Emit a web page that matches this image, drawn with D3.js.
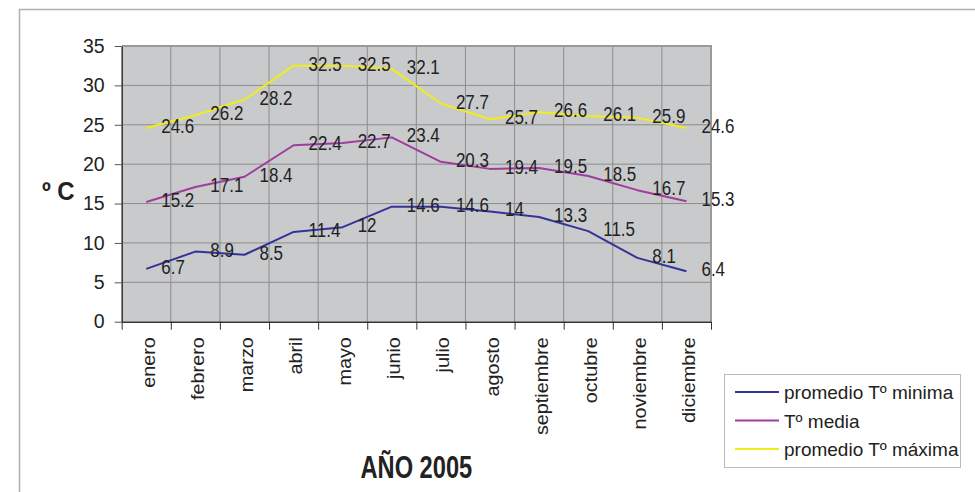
<!DOCTYPE html>
<html>
<head>
<meta charset="utf-8">
<script src="https://cdn.jsdelivr.net/npm/d3@7"></script>
<style>
  html, body { margin: 0; padding: 0; background: #ffffff; }
  svg { display: block; }
  text { font-family: "Liberation Sans", Arial, Helvetica, sans-serif; fill: #222; }
</style>
</head>
<body>
<svg id="chart" width="975" height="492"></svg>
<script>
// Monthly temperatures, 2005
const months = ["enero", "febrero", "marzo", "abril", "mayo", "junio",
                "julio", "agosto", "septiembre", "octubre", "noviembre", "diciembre"];
const tMin   = [6.7, 8.9, 8.5, 11.4, 12, 14.6, 14.6, 14, 13.3, 11.5, 8.1, 6.4];
const tMedia = [15.2, 17.1, 18.4, 22.4, 22.7, 23.4, 20.3, 19.4, 19.5, 18.5, 16.7, 15.3];
const tMax   = [24.6, 26.2, 28.2, 32.5, 32.5, 32.1, 27.7, 25.7, 26.6, 26.1, 25.9, 24.6];
const seriesNames = ["promedio Tº minima", "Tº media", "promedio Tº máxima"];
const yTicks = [0, 5, 10, 15, 20, 25, 30, 35];
const yLabel = "º C";
const xLabel = "AÑO 2005";

const series = [
  { name: seriesNames[0], values: tMin,   color: "#333399" },
  { name: seriesNames[1], values: tMedia, color: "#a03ca0" },
  { name: seriesNames[2], values: tMax,   color: "#f0ec1e" }
];

const svg = d3.select("#chart");
const plot = { left: 121.7, right: 711, top: 46, bottom: 321.7 };

const x = d3.scaleBand().domain(months).range([plot.left, plot.right]).padding(0);
const xIdx = d3.scaleLinear().domain([0, months.length]).range([plot.left, plot.right]);
const y = d3.scaleLinear().domain([0, 35]).range([plot.bottom, plot.top]);
const cx = m => x(m) + x.bandwidth() / 2;

// outer chart frame
svg.append("path")
  .attr("d", "M19.5,492 L19.5,9.5 L975,9.5")
  .attr("fill", "none").attr("stroke", "#b0b0b0").attr("stroke-width", 1.5);

// plot background
svg.append("rect")
  .attr("x", plot.left).attr("y", plot.top)
  .attr("width", plot.right - plot.left).attr("height", plot.bottom - plot.top)
  .attr("fill", "#c9cacc");

// gridlines
const grid = svg.append("g").attr("stroke", "#8c8c8c").attr("stroke-width", 1);
grid.selectAll(".h").data(yTicks.filter(v => v > 0 && v < 35)).join("line")
  .attr("x1", plot.left).attr("x2", plot.right)
  .attr("y1", d => y(d)).attr("y2", d => y(d));
grid.selectAll(".v").data(d3.range(1, months.length)).join("line")
  .attr("x1", d => xIdx(d)).attr("x2", d => xIdx(d))
  .attr("y1", plot.top).attr("y2", plot.bottom);

// top and right plot borders
svg.append("path")
  .attr("d", `M${plot.left},${plot.top} L${plot.right},${plot.top} L${plot.right},${plot.bottom}`)
  .attr("fill", "none").attr("stroke", "#9a9a9a").attr("stroke-width", 2);

// y axis
const yAxis = svg.append("g")
  .attr("transform", `translate(${plot.left},0)`)
  .call(d3.axisLeft(y).tickValues(yTicks).tickSize(7).tickPadding(10).tickSizeOuter(0));
yAxis.select(".domain").attr("stroke", "#333").attr("stroke-width", 1.5);
yAxis.selectAll(".tick line").attr("stroke", "#555");
yAxis.selectAll("text").style("font-size", "19.5px").attr("fill", "#222")
  .style("font-family", "'Liberation Sans', Arial, sans-serif");

// x axis: boundary ticks
const xTicks = svg.append("g")
  .attr("transform", `translate(0,${plot.bottom})`)
  .call(d3.axisBottom(xIdx).tickValues(d3.range(0, months.length + 1))
        .tickFormat("").tickSize(8).tickSizeOuter(0));
xTicks.select(".domain").attr("stroke", "#333").attr("stroke-width", 1.5);
xTicks.selectAll(".tick line").attr("stroke", "#333");

// x axis: month labels, rotated
const xLabels = svg.append("g")
  .attr("transform", `translate(0,${plot.bottom})`)
  .call(d3.axisBottom(x).tickSize(0).tickPadding(0));
xLabels.select(".domain").remove();
xLabels.selectAll(".tick").each(function(m) {
  const t = d3.select(this).select("text");
  t.attr("x", null).attr("y", null).attr("dy", null)
   .attr("text-anchor", "end")
   .attr("transform", "translate(8.5,15.5) scale(0.9,1) rotate(-90)")
   .style("font-size", "19.8px").attr("fill", "#222")
   .style("font-family", "'Liberation Sans', Arial, sans-serif");
});

// lines
const line = d3.line().x((d, i) => cx(months[i])).y(d => y(d));
svg.append("g").selectAll("path").data(series).join("path")
  .attr("d", s => line(s.values))
  .attr("fill", "none").attr("stroke", s => s.color).attr("stroke-width", 2)
  .attr("stroke-linejoin", "round");

// value labels, to the right of each point
series.forEach(s => {
  svg.append("g").selectAll("text").data(s.values).join("text")
    .attr("transform", (d, i) => `translate(${cx(months[i]) + 15},${y(d) + 5}) scale(0.87,1)`)
    .style("font-size", "19.5px")
    .text(d => d);
});

// axis titles
svg.append("text")
  .attr("transform", "translate(42,200) scale(0.92,1)")
  .style("font-size", "26px").style("font-weight", "bold")
  .text(yLabel);
svg.append("text")
  .attr("transform", `translate(${(plot.left + plot.right) / 2},478) scale(0.74,1)`)
  .attr("text-anchor", "middle")
  .style("font-size", "32px").style("font-weight", "bold")
  .text(xLabel);

// legend
const legend = svg.append("g").attr("transform", "translate(724,374)");
legend.append("rect")
  .attr("x", 0.5).attr("y", 0.5).attr("width", 236).attr("height", 93)
  .attr("fill", "#fff").attr("stroke", "#bbbbbb").attr("stroke-width", 1);
const item = legend.selectAll(".item").data(series).join("g")
  .attr("transform", (d, i) => `translate(0,${18 + i * 28.5})`);
item.append("line")
  .attr("x1", 11).attr("x2", 55).attr("y1", 0).attr("y2", 0)
  .attr("stroke", d => d.color).attr("stroke-width", 2);
item.append("text")
  .attr("x", 60).attr("y", 7)
  .style("font-size", "19px")
  .text(d => d.name);
</script>
</body>
</html>
